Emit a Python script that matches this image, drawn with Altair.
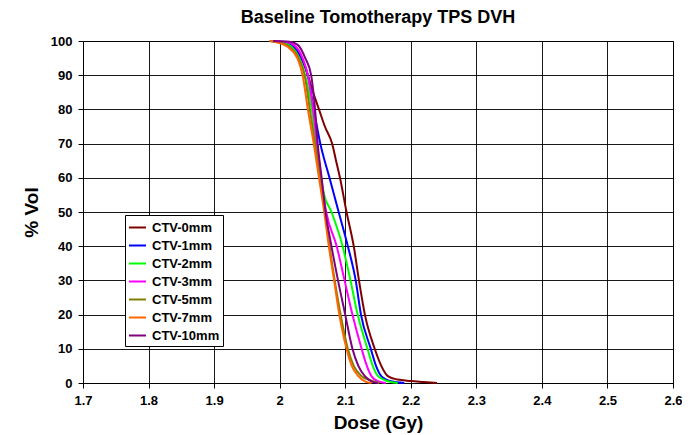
import altair as alt
import pandas as pd

series = ["CTV-0mm", "CTV-1mm", "CTV-2mm", "CTV-3mm", "CTV-5mm", "CTV-7mm", "CTV-10mm"]
colors = ["#800000", "#0000FF", "#00FF00", "#FF00FF", "#808000", "#FF6600", "#800080"]

dose_0 = [1.985, 2.005, 2.02, 2.033, 2.043, 2.051, 2.060, 2.069, 2.080, 2.086, 2.092, 2.102, 2.113, 2.121, 2.130, 2.145, 2.155, 2.165, 2.18, 2.20, 2.22, 2.24]
vol_0 = [100, 99.7, 98.5, 95, 90, 85, 80, 75, 70, 65, 60, 50, 40, 30, 20, 10, 5, 2, 1, 0.6, 0.3, 0]

dose_1 = [1.985, 2.005, 2.02, 2.033, 2.043, 2.052, 2.062, 2.076, 2.09, 2.104, 2.116, 2.124, 2.139, 2.147, 2.155, 2.17, 2.19]
vol_1 = [100, 99.7, 98.5, 95, 90, 80, 70, 60, 50, 40, 30, 20, 10, 5, 2, 0.5, 0]

dose_2 = [1.985, 2.003, 2.018, 2.030, 2.039, 2.049, 2.056, 2.063, 2.068, 2.079, 2.096, 2.108, 2.119, 2.134, 2.142, 2.150, 2.165, 2.18]
vol_2 = [100, 99.6, 98.3, 95, 90, 80, 70, 60, 55, 50, 40, 30, 20, 10, 5, 2, 0.5, 0]

dose_3 = [1.99, 2.01, 2.022, 2.035, 2.043, 2.051, 2.057, 2.063, 2.071, 2.087, 2.099, 2.111, 2.125, 2.133, 2.140, 2.150, 2.162]
vol_3 = [100, 99.7, 98.8, 95, 90, 80, 70, 60, 50, 40, 30, 20, 10, 5, 2, 0.5, 0]

dose_5 = [1.985, 2.0, 2.015, 2.029, 2.038, 2.046, 2.054, 2.062, 2.069, 2.076, 2.084, 2.093, 2.104, 2.113, 2.125, 2.14, 2.152]
vol_5 = [100, 99.6, 98.3, 95, 90, 80, 70, 60, 50, 40, 30, 20, 10, 5, 2, 0.7, 0]

dose_7 = [1.985, 1.998, 2.012, 2.027, 2.035, 2.043, 2.052, 2.060, 2.068, 2.075, 2.083, 2.091, 2.102, 2.110, 2.120, 2.130, 2.140]
vol_7 = [100, 99.5, 98.3, 95, 90, 80, 70, 60, 50, 40, 30, 20, 10, 5, 2, 0.5, 0]

dose_10 = [1.99, 2.015, 2.028, 2.039, 2.048, 2.054, 2.058, 2.064, 2.070, 2.079, 2.089, 2.100, 2.111, 2.120, 2.130, 2.140, 2.150]
vol_10 = [100, 99.8, 98.8, 95, 90, 80, 70, 60, 50, 40, 30, 20, 10, 5, 2, 0.5, 0]

x_ticks = [1.7, 1.8, 1.9, 2.0, 2.1, 2.2, 2.3, 2.4, 2.5, 2.6]
y_ticks = [0, 10, 20, 30, 40, 50, 60, 70, 80, 90, 100]

curves = [dose_0, dose_1, dose_2, dose_3, dose_5, dose_7, dose_10]
vols = [vol_0, vol_1, vol_2, vol_3, vol_5, vol_7, vol_10]

rows = []
for si, (name, ds, vs) in enumerate(zip(series, curves, vols)):
    for i, (d, v) in enumerate(zip(ds, vs)):
        rows.append({"series": name, "dose": d, "vol": v, "idx": i, "s": si})
df = pd.DataFrame(rows)

FONT = "Arial, Liberation Sans, Helvetica, sans-serif"

chart = alt.Chart(df).mark_line(strokeWidth=2, interpolate="monotone").encode(
    x=alt.X("dose:Q",
            scale=alt.Scale(domain=[1.7, 2.6], nice=False, zero=False),
            axis=alt.Axis(values=x_ticks, format=".1~f", title="Dose (Gy)",
                          labelFontSize=13, labelFontWeight="bold", labelFont=FONT,
                          titleFontSize=19, titleFontWeight="bold", titleFont=FONT,
                          labelColor="black", titleColor="black",
                          domainColor="black", tickColor="black", tickSize=5,
                          gridColor="black", gridOpacity=0.9, gridWidth=1,
                          labelPadding=6, titlePadding=6, labelFlush=False)),
    y=alt.Y("vol:Q",
            scale=alt.Scale(domain=[0, 100], nice=False),
            axis=alt.Axis(values=y_ticks, title="% Vol",
                          labelFontSize=13, labelFontWeight="bold", labelFont=FONT,
                          titleFontSize=19, titleFontWeight="bold", titleFont=FONT,
                          labelColor="black", titleColor="black",
                          domainColor="black", tickColor="black", tickSize=5,
                          gridColor="black", gridOpacity=0.9, gridWidth=1,
                          labelPadding=6, titlePadding=9, labelFlush=False)),
    color=alt.Color("series:N",
                    scale=alt.Scale(domain=series, range=colors),
                    legend=alt.Legend(title=None, orient="none", legendX=42, legendY=174,
                                      symbolType="stroke", symbolStrokeWidth=2,
                                      symbolSize=289, labelFontSize=13,
                                      labelFontWeight="bold", labelFont=FONT,
                                      labelColor="black", strokeColor="black",
                                      fillColor="white", padding=3, rowPadding=1,
                                      labelOffset=5)),
    order=alt.Order("idx:Q"),
    detail="series:N",
).properties(
    width=590, height=342,
    title=alt.TitleParams("Baseline Tomotherapy TPS DVH", fontSize=18, fontWeight="bold",
                          font=FONT, anchor="middle", offset=8, color="black"),
    padding={"left": 75, "top": 33, "right": 9, "bottom": 50},
    autosize=alt.AutoSizeParams(type="none"),
).configure_view(stroke="black", strokeWidth=1)

chart.save("out.html", embed_options={"renderer": "svg", "actions": False})
